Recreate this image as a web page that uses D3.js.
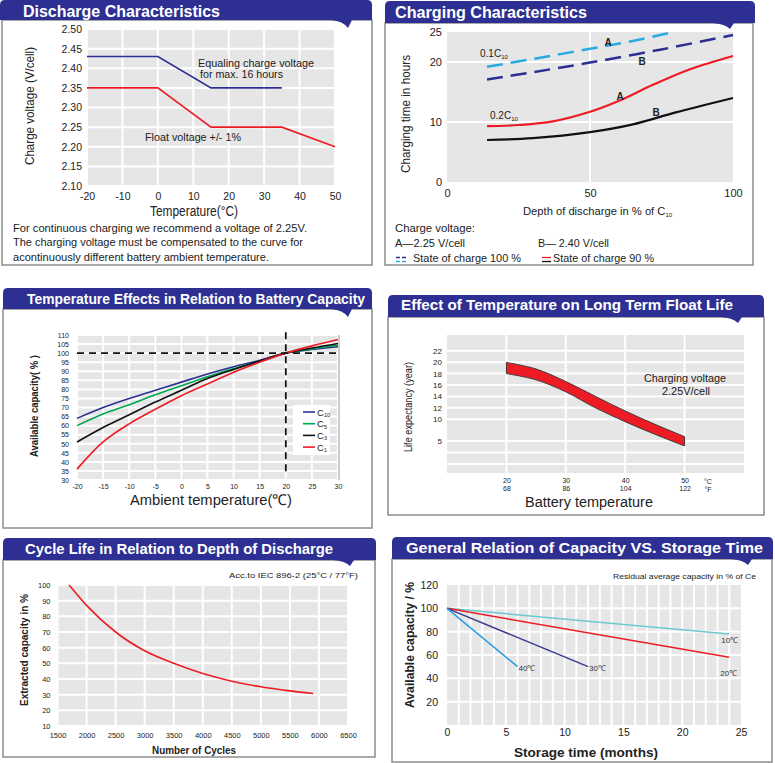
<!DOCTYPE html>
<html><head><meta charset="utf-8">
<script src="https://cdn.jsdelivr.net/npm/d3@7"></script>
<style>body{margin:0;background:#fff}svg{display:block;font-family:"Liberation Sans",Arial,sans-serif}</style>
</head><body>
<svg id="c" width="775" height="763"></svg>
<script>
// ---------- Panel 1: Discharge characteristics ----------
const dischargeTempTicks = [-20,-10,0,10,20,30,40,50];
const dischargeVoltTicks = [2.10,2.15,2.20,2.25,2.30,2.35,2.40,2.45,2.50];
const equalizeTemp = [-20,0,15,35];
const equalizeVolt = [2.43,2.43,2.35,2.35];
const floatTemp = [-20,0,15,35,50];
const floatVolt = [2.35,2.35,2.25,2.25,2.20];

// ---------- Panel 2: Charging characteristics ----------
const dodTicks = [0,50,100];
const hourTicks = [0,10,20,25];
const dodA100 = [14,30,50,65,79];
const hoursA100 = [19.2,20.5,22.2,23.5,25.0];
const dodB100 = [14,30,50,75,100];
const hoursB100 = [17.1,18.3,19.9,22.1,24.5];
const dodA90 = [14,25,37,50,60,72,85,100];
const hoursA90 = [9.3,9.5,10.1,11.7,13.5,16.2,18.8,21.0];
const dodB90 = [14,30,50,65,80,100];
const hoursB90 = [7.0,7.3,8.3,9.6,11.6,14.0];

// ---------- Panel 3: Temperature vs capacity ----------
const ambientTemps = [-20,-15,-10,-5,0,5,10,15,20,25,30];
const ambientTicks = [-20,-15,-10,-5,0,5,10,15,20,25,30];
const capacityTicks = [30,35,40,45,50,55,60,65,70,75,80,85,90,95,100,105,110];
const capC10 = [64,70,75,79.5,84,88.5,92.5,96,100,102,103.5];
const capC5  = [60,66.4,71.5,77,82,87,91.5,95.5,100,102.3,104.3];
const capC3  = [51,59,66,73,79.5,86,91,95.7,100,102.8,105.3];
const capC1  = [36,51,61,69,76.5,83,89.5,95,100,104,107.5];
const capSeriesNames = ["10","5","3","1"];

// ---------- Panel 4: Float life ----------
const floatLifeTempsC = [20,30,40,50];
const floatLifeTempsF = ["68","86","104","122"];
const lifeTicks = [5,10,12,14,16,18,20,22];
const lifeGrid = [1,3,5,10,12,14,16,18,20,22];
const bandTemp = [20,25,30,35,40,45,50];
const bandUpper = [19.95,18.8,16.6,14.0,11.45,8.85,6.0];
const bandLower = [18.0,16.9,14.8,12.0,9.45,6.55,4.13];

// ---------- Panel 5: Cycle life ----------
const cycleTicks = [1500,2000,2500,3000,3500,4000,4500,5000,5500,6000,6500];
const extractTicks = [10,20,30,40,50,60,70,80,90,100];
const cycles = [1700,2000,2500,3000,3500,4000,4500,5000,5500,5900];
const extracted = [100,87,70,58,50,43.5,38.6,35,32.4,30.7];

// ---------- Panel 6: Storage ----------
const monthTicks = [0,5,10,15,20,25];
const storageCapTicks = [20,40,60,80,100,120];
const storageLabels = ["10℃","20℃","30℃","40℃"];
const storageMonths = [[0,24],[0,24],[0,12],[0,6]];
const storageCap = [[100,78],[100,58],[100,50],[100,50]];

// =====================================================
const svg = d3.select("#c");
const NAVY = "#2d3092";
const BG = "#e6e6e6";
const FRAME = "#8c8c8c";
const RED = "#ed1c24";
const plain = d => String(d);

function frame(x0,y0,x1,y1){
  svg.append("rect").attr("x",x0).attr("y",y0).attr("width",x1-x0).attr("height",y1-y0)
    .attr("fill","none").attr("stroke",FRAME).attr("stroke-width",1.5);
}
function banner(b){
  const r=5, p=d3.path();
  p.moveTo(b.x0,b.y1); p.lineTo(b.x0,b.y0+r); p.quadraticCurveTo(b.x0,b.y0,b.x0+r,b.y0);
  p.lineTo(b.x1-r,b.y0); p.quadraticCurveTo(b.x1,b.y0,b.x1,b.y0+r); p.lineTo(b.x1,b.y1);
  p.lineTo(b.tx+4,b.y1); p.lineTo(b.tx,b.ty); p.quadraticCurveTo(b.tx-5,b.y1+1,b.tx-17,b.y1); p.closePath();
  svg.append("path").attr("d",p.toString()).attr("fill",NAVY);
  svg.append("text").attr("x",b.lx).attr("y",b.ly).attr("fill","#fff").attr("font-weight","bold")
    .attr("font-size",b.fs).attr("textLength",b.lw).attr("lengthAdjust","spacingAndGlyphs").text(b.title);
}
function txt(g,o){
  const t=g.append("text").attr("font-size",o.size||11).attr("fill",o.fill||"#222")
    .attr("text-anchor",o.anchor||"start").text(o.text);
  if(o.rotate){ t.attr("transform",`translate(${o.x},${o.y}) rotate(-90)`); }
  else { t.attr("x",o.x).attr("y",o.y); }
  if(o.weight) t.attr("font-weight",o.weight);
  if(o.len) t.attr("textLength",o.len).attr("lengthAdjust","spacingAndGlyphs");
  return t;
}
function sub(t,s,size){ t.append("tspan").attr("font-size",size).attr("dy","0.25em").text(s); }
function axisB(g,scale,vals,y,fmt,size,pad){
  const a=g.append("g").attr("transform",`translate(0,${y})`)
    .call(d3.axisBottom(scale).tickValues(vals).tickSize(0).tickPadding(pad).tickFormat(fmt));
  a.select(".domain").remove(); a.attr("font-size",size).attr("font-family",null);
  a.selectAll("text").attr("fill","#222"); return a;
}
function axisL(g,scale,vals,x,fmt,size,pad){
  const a=g.append("g").attr("transform",`translate(${x},0)`)
    .call(d3.axisLeft(scale).tickValues(vals).tickSize(0).tickPadding(pad).tickFormat(fmt));
  a.select(".domain").remove(); a.attr("font-size",size).attr("font-family",null);
  a.selectAll("text").attr("fill","#222"); return a;
}
function plotBg(g,x,y){
  const [x0,x1]=x.range(), [y0,y1]=y.range();
  g.append("rect").attr("x",Math.min(x0,x1)).attr("y",Math.min(y0,y1))
   .attr("width",Math.abs(x1-x0)).attr("height",Math.abs(y1-y0)).attr("fill",BG);
}
function gridV(g,x,y,vals,w){ g.selectAll(null).data(vals).join("line").attr("x1",d=>x(d)).attr("x2",d=>x(d))
  .attr("y1",y.range()[0]).attr("y2",y.range()[1]).attr("stroke","#fff").attr("stroke-width",w||2); }
function gridH(g,x,y,vals,w){ g.selectAll(null).data(vals).join("line").attr("y1",d=>y(d)).attr("y2",d=>y(d))
  .attr("x1",x.range()[0]).attr("x2",x.range()[1]).attr("stroke","#fff").attr("stroke-width",w||2); }

// ================= Panel 1 =================
frame(2,20,372,265);
banner({x0:0,x1:372,y0:0,y1:20,tx:348,ty:28,title:"Discharge Characteristics",lx:23,ly:17,lw:197,fs:16});
{
  const g=svg.append("g");
  const x=d3.scaleLinear().domain([-20,50]).range([87,335]);
  const y=d3.scaleLinear().domain([2.10,2.50]).range([186,29]);
  plotBg(g,x,y); gridV(g,x,y,dischargeTempTicks); gridH(g,x,y,dischargeVoltTicks);
  const line=d3.line().x(d=>x(d[0])).y(d=>y(d[1]));
  g.append("path").attr("d",line(d3.zip(equalizeTemp,equalizeVolt))).attr("fill","none").attr("stroke",NAVY).attr("stroke-width",1.6);
  g.append("path").attr("d",line(d3.zip(floatTemp,floatVolt))).attr("fill","none").attr("stroke",RED).attr("stroke-width",1.6);
  axisL(g,y,dischargeVoltTicks,87,d3.format(".2f"),10.5,5);
  axisB(g,x,dischargeTempTicks,186,plain,10.5,7);
  txt(g,{x:198,y:67,text:"Equaling charge voltage",size:10.5,len:116});
  txt(g,{x:200,y:78,text:"for max. 16 hours",size:10.5,len:83});
  txt(g,{x:145,y:141,text:"Float voltage +/- 1%",size:10.5,len:96});
  txt(g,{x:34,y:106,text:"Charge voltage (V/cell)",size:13,anchor:"middle",rotate:true,len:118});
  txt(g,{x:194,y:216,text:"Temperature(°C)",size:14,anchor:"middle",len:88});
  txt(g,{x:13,y:232,text:"For continuous charging we recommend a voltage of 2.25V.",size:11,len:294});
  txt(g,{x:13,y:246,text:"The charging voltage must be compensated to the curve for",size:11,len:290});
  txt(g,{x:13,y:261,text:"acontinuously different battery ambient temperature.",size:11,len:256});
}

// ================= Panel 2 =================
frame(385,23,753,265);
banner({x0:385,x1:755,y0:1,y1:23,tx:730,ty:29,title:"Charging Characteristics",lx:395,ly:18,lw:192,fs:16});
{
  const g=svg.append("g");
  const x=d3.scaleLinear().domain([0,100]).range([447,733]);
  const y=d3.scaleLinear().domain([0,25]).range([182,32]);
  plotBg(g,x,y); gridV(g,x,y,[50]); gridH(g,x,y,[10,20]);
  const line=d3.line().x(d=>x(d[0])).y(d=>y(d[1])).curve(d3.curveCatmullRom);
  const P=(a,b,c,w,dash)=>{const p=g.append("path").attr("d",line(d3.zip(a,b))).attr("fill","none").attr("stroke",c).attr("stroke-width",w); if(dash)p.attr("stroke-dasharray",dash);};
  P(dodA100,hoursA100,"#29abe2",2.5,"16,8");
  P(dodB100,hoursB100,NAVY,2.5,"16,8");
  P(dodA90,hoursA90,RED,2.2);
  P(dodB90,hoursB90,"#111",2.2);
  axisL(g,y,hourTicks,447,plain,11,5);
  axisB(g,x,dodTicks,182,plain,11,7);
  let t=txt(g,{x:480,y:57,text:"0.1C",size:10}); sub(t,"10",6);
  t=txt(g,{x:490,y:119,text:"0.2C",size:10}); sub(t,"10",6);
  txt(g,{x:608,y:46,text:"A",size:10,weight:"bold",anchor:"middle"});
  txt(g,{x:642,y:65,text:"B",size:10,weight:"bold",anchor:"middle"});
  txt(g,{x:620,y:100,text:"A",size:10,weight:"bold",anchor:"middle"});
  txt(g,{x:656,y:116,text:"B",size:10,weight:"bold",anchor:"middle"});
  txt(g,{x:410,y:114,text:"Charging time in hours",size:13,anchor:"middle",rotate:true,len:118});
  t=txt(g,{x:523,y:215,text:"Depth of discharge in % of C",size:11.2}); sub(t,"10",6);
  txt(g,{x:395,y:232,text:"Charge voltage:",size:11,len:80});
  txt(g,{x:395,y:247,text:"A—2.25 V/cell",size:11,len:70});
  txt(g,{x:538,y:247,text:"B— 2.40 V/cell",size:11,len:71});
  [[257.5,NAVY],[261.5,"#29abe2"]].forEach(d=>g.append("line").attr("x1",396).attr("x2",407).attr("y1",d[0]).attr("y2",d[0]).attr("stroke",d[1]).attr("stroke-width",1.3).attr("stroke-dasharray","4,2"));
  [[257.5,RED],[261.5,"#111"]].forEach(d=>g.append("line").attr("x1",542).attr("x2",551).attr("y1",d[0]).attr("y2",d[0]).attr("stroke",d[1]).attr("stroke-width",1.3));
  txt(g,{x:413,y:262,text:"State of charge 100 %",size:11,len:108});
  txt(g,{x:553,y:262,text:"State of charge 90 %",size:11,len:101});
}

// ================= Panel 3 =================
frame(3,309,372,528);
banner({x0:3,x1:372,y0:288,y1:309,tx:348,ty:317,title:"Temperature Effects in Relation to Battery Capacity",lx:27,ly:304,lw:338,fs:15});
{
  const g=svg.append("g");
  const x=d3.scaleLinear().domain([-20,30]).range([77,338]);
  const y=d3.scaleLinear().domain([30,110]).range([480,335]);
  plotBg(g,x,y); gridV(g,x,y,ambientTicks); gridH(g,x,y,capacityTicks);
  g.append("line").attr("x1",x(30)+1).attr("x2",x(30)+1).attr("y1",y(110)).attr("y2",y(30)).attr("stroke","#999").attr("stroke-width",1);
  const line=d3.line().x(d=>x(d[0])).y(d=>y(d[1])).curve(d3.curveCatmullRom);
  const cols=[NAVY,"#00a651","#111",RED];
  [capC10,capC5,capC3,capC1].forEach((s,i)=>g.append("path").attr("d",line(d3.zip(ambientTemps,s))).attr("fill","none").attr("stroke",cols[i]).attr("stroke-width",1.6));
  g.append("line").attr("x1",x(-20)).attr("x2",x(30)).attr("y1",y(100)).attr("y2",y(100)).attr("stroke","#111").attr("stroke-width",1.8).attr("stroke-dasharray","7,5");
  g.append("line").attr("x1",x(20)).attr("x2",x(20)).attr("y1",y(111.5)).attr("y2",y(33)).attr("stroke","#111").attr("stroke-width",1.8).attr("stroke-dasharray","7,5");
  axisL(g,y,capacityTicks,77,plain,7,8);
  axisB(g,x,ambientTicks,480,plain,7,4.5);
  // legend
  g.append("rect").attr("x",293).attr("y",405).attr("width",37).attr("height",50).attr("fill","#fff");
  capSeriesNames.forEach((n,i)=>{
    const yy=412+i*11.7;
    g.append("line").attr("x1",303).attr("x2",315).attr("y1",yy).attr("y2",yy).attr("stroke",cols[i]).attr("stroke-width",1.6);
    const t=txt(g,{x:317,y:yy+3.5,text:"C",size:9.5}); sub(t,n,5.5);
  });
  txt(g,{x:38,y:406,text:"Available capacity( % )",size:11,weight:"bold",anchor:"middle",rotate:true,len:102});
  txt(g,{x:211,y:505,text:"Ambient temperature(℃)",size:15,anchor:"middle",len:162});
}

// ================= Panel 4 =================
frame(388,317,764,515);
banner({x0:388,x1:764,y0:295,y1:317,tx:738,ty:323,title:"Effect of Temperature on Long Term Float Life",lx:401,ly:310,lw:332,fs:15});
{
  const g=svg.append("g");
  const x=d3.scaleLinear().domain([10,60]).range([447,744]);
  const y=d3.scaleLinear().domain([1,5,10,22]).range([464,441,419.3,350.7]);
  const yb=d3.scaleLinear().domain([y.invert(473),y.invert(335)]).range([473,335]);
  plotBg(g,x,yb); gridV(g,x,yb,floatLifeTempsC); gridH(g,x,y,lifeGrid);
  const area=d3.area().x(d=>x(d[0])).y0(d=>y(d[1])).y1(d=>y(d[2])).curve(d3.curveCatmullRom);
  g.append("path").attr("d",area(d3.zip(bandTemp,bandLower,bandUpper))).attr("fill",RED).attr("stroke","#3a3a3a").attr("stroke-width",1);
  axisL(g,y,lifeTicks,447,plain,8,5);
  axisB(g,x,floatLifeTempsC,473,plain,7,5.4);
  axisB(g,x,floatLifeTempsC,473,(d,i)=>floatLifeTempsF[i],7,13.4);
  txt(g,{x:708,y:483.8,text:"°C",size:7,anchor:"middle"});
  txt(g,{x:708,y:491.8,text:"°F",size:7,anchor:"middle"});
  txt(g,{x:685,y:382,text:"Charging voltage",size:11,anchor:"middle",len:82});
  txt(g,{x:686,y:395,text:"2.25V/cell",size:11,anchor:"middle",len:48});
  txt(g,{x:412,y:407,text:"Life expectancy (year)",size:11,anchor:"middle",rotate:true,len:90});
  txt(g,{x:589,y:507,text:"Battery temperature",size:14,anchor:"middle",len:128});
}

// ================= Panel 5 =================
frame(3,560,375,757);
banner({x0:3,x1:376,y0:538,y1:560,tx:350,ty:566,title:"Cycle Life in Relation to Depth of Discharge",lx:25,ly:554,lw:308,fs:15});
{
  const g=svg.append("g");
  const x=d3.scaleLinear().domain([1500,6500]).range([57.5,348]);
  const y=d3.scaleLinear().domain([10,100]).range([726,585]);
  plotBg(g,x,y); gridV(g,x,y,cycleTicks); gridH(g,x,y,extractTicks);
  const line=d3.line().x(d=>x(d[0])).y(d=>y(d[1])).curve(d3.curveMonotoneX);
  g.append("path").attr("d",line(d3.zip(cycles,extracted))).attr("fill","none").attr("stroke",RED).attr("stroke-width",1.6);
  axisL(g,y,extractTicks,57.5,plain,7.5,7);
  axisB(g,x,cycleTicks,726,plain,7.5,6.3);
  txt(g,{x:358,y:578,text:"Acc.to IEC 896-2 (25°C / 77°F)",size:8,anchor:"end",len:129});
  txt(g,{x:194,y:754,text:"Number of Cycles",size:10,weight:"bold",anchor:"middle",len:84});
  txt(g,{x:28,y:650,text:"Extracted capacity in %",size:10,weight:"bold",anchor:"middle",rotate:true,len:112});
}

// ================= Panel 6 =================
frame(392,559,772,762);
banner({x0:392,x1:773,y0:537,y1:559,tx:748,ty:565,title:"General Relation of Capacity VS. Storage Time",lx:406,ly:553,lw:357,fs:15});
{
  const g=svg.append("g");
  const x=d3.scaleLinear().domain([0,25]).range([447,741]);
  const y=d3.scaleLinear().domain([0,120]).range([725,585]);
  plotBg(g,x,y); gridV(g,x,y,d3.range(1,25)); gridH(g,x,y,storageCapTicks.filter(d=>d<120));
  const cols=["#6cc9cf",RED,"#3b3b8f","#2a9de0"];
  const line=d3.line().x(d=>x(d[0])).y(d=>y(d[1]));
  storageMonths.forEach((m,i)=>g.append("path").attr("d",line(d3.zip(m,storageCap[i]))).attr("fill","none").attr("stroke",cols[i]).attr("stroke-width",1.5));
  const lab=[[x(24)-8,643],[x(24)-9,676],[x(12)+1,671],[x(6)+1,671]];
  storageLabels.forEach((s,i)=>txt(g,{x:lab[i][0],y:lab[i][1],text:s,size:8,fill:"#333"}));
  axisL(g,y,storageCapTicks,447,plain,10.5,9);
  axisB(g,x,monthTicks,725,plain,10.5,3.2);
  txt(g,{x:756,y:579,text:"Residual average capacity in % of Ce",size:8,anchor:"end",len:143});
  txt(g,{x:586,y:757,text:"Storage time (months)",size:13,weight:"bold",anchor:"middle",len:144});
  txt(g,{x:414,y:645,text:"Available capacity / %",size:12,weight:"bold",anchor:"middle",rotate:true,len:126});
}
</script>
</body></html>
